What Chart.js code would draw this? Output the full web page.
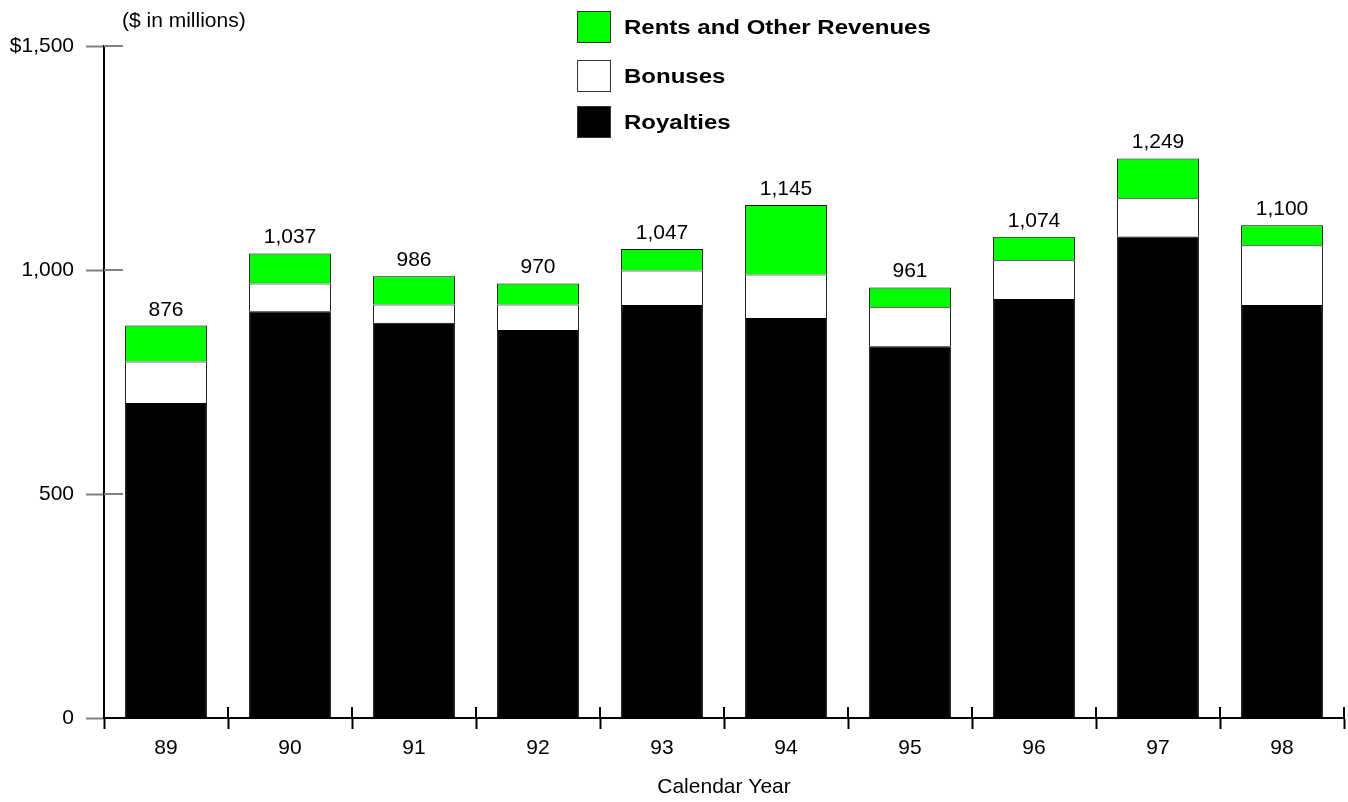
<!DOCTYPE html>
<html>
<head>
<meta charset="utf-8">
<script src="https://cdn.jsdelivr.net/npm/chart.js@4"></script>
<style>
  html, body { margin: 0; padding: 0; background: #fff; }
  #wrap { width: 1348px; height: 802px; }
</style>
</head>
<body>
<div id="wrap"><canvas id="revenue"></canvas></div>
<script>
// Revenue by calendar year, $ in millions
const years = ['89', '90', '91', '92', '93', '94', '95', '96', '97', '98'];
const royalties = [703, 908, 882, 866, 922, 893, 830, 935, 1075, 922];
const bonuses = [93, 62, 41, 57, 77, 97, 87, 87, 85, 133];
const rents = [80, 67, 63, 47, 48, 155, 44, 52, 89, 45];
const yTicks = [0, 500, 1000, 1500];

const FONT = "'Liberation Sans', Arial, sans-serif";
Chart.defaults.font.family = FONT;
Chart.defaults.font.size = 21;
Chart.defaults.color = '#000';

const fmt = v => v.toLocaleString('en-US');

// totals above each stack, legend block, unit note and the ticks that cross the axes
const decorations = {
    id: 'decorations',
    afterDatasetsDraw(chart) {
        const { ctx, scales: { x, y } } = chart;
        const area = chart.chartArea;
        ctx.save();

        // inner halves of the axis ticks
        ctx.lineWidth = 2;
        ctx.strokeStyle = '#808080';
        yTicks.slice(1).forEach(v => {
            const py = y.getPixelForValue(v);
            ctx.beginPath();
            ctx.moveTo(area.left, py);
            ctx.lineTo(area.left + 19, py);
            ctx.stroke();
        });
        ctx.strokeStyle = '#000';
        for (let i = 0; i <= years.length; i++) {
            const px = Math.round(x.getPixelForValue(i - 0.5));
            ctx.beginPath();
            ctx.moveTo(px, area.bottom - 11);
            ctx.lineTo(px, area.bottom);
            ctx.stroke();
        }

        // stack totals
        ctx.fillStyle = '#000';
        ctx.font = `21px ${FONT}`;
        ctx.textAlign = 'center';
        ctx.textBaseline = 'alphabetic';
        years.forEach((yr, i) => {
            const total = royalties[i] + bonuses[i] + rents[i];
            ctx.fillText(fmt(total), x.getPixelForValue(i), y.getPixelForValue(total) - 10);
        });

        // unit note
        ctx.textAlign = 'left';
        ctx.textBaseline = 'middle';
        ctx.fillText('($ in millions)', 122, 21);

        // legend, top series first
        const items = chart.data.datasets.slice().reverse();
        items.forEach((ds, k) => {
            const top = [11, 60, 106][k];
            ctx.fillStyle = ds.backgroundColor;
            ctx.fillRect(577, top, 34, 32);
            ctx.lineWidth = 1;
            ctx.strokeStyle = '#333';
            ctx.strokeRect(577.5, top + 0.5, 33, 31);
            // legend type is set wide
            ctx.save();
            ctx.translate(624, top + 17);
            ctx.scale(1.2, 1);
            ctx.font = `bold 20px ${FONT}`;
            ctx.fillStyle = '#000';
            ctx.fillText(ds.label, 0, 0);
            ctx.restore();
        });
        ctx.restore();
    }
};

const seg = (label, data, color) => ({
    label,
    data,
    backgroundColor: color,
    borderColor: '#000',
    borderWidth: 1,
    borderSkipped: 'start',
    barPercentage: 0.66,
    categoryPercentage: 1
});

new Chart(document.getElementById('revenue'), {
    type: 'bar',
    data: {
        labels: years,
        datasets: [
            seg('Royalties', royalties, '#000000'),
            seg('Bonuses', bonuses, '#ffffff'),
            seg('Rents and Other Revenues', rents, '#00ff00')
        ]
    },
    options: {
        responsive: true,
        maintainAspectRatio: false,
        animation: false,
        layout: { padding: { top: 46, right: 4, left: 0, bottom: 0 } },
        plugins: { legend: { display: false }, tooltip: { enabled: false } },
        scales: {
            x: {
                stacked: true,
                afterFit: s => { s.height = 84; },
                grid: { drawOnChartArea: false, drawTicks: true, tickLength: 11, tickColor: '#000', tickWidth: 2, offset: true },
                border: { color: '#000', width: 2 },
                ticks: { padding: 7 },
                title: { display: true, text: 'Calendar Year', padding: { top: 0, bottom: 2 } }
            },
            y: {
                stacked: true,
                min: 0,
                max: 1500,
                afterFit: s => { s.width = 104; },
                afterBuildTicks: s => { s.ticks = yTicks.map(v => ({ value: v })); },
                grid: { drawOnChartArea: false, drawTicks: true, tickLength: 18, tickColor: '#808080', tickWidth: 2 },
                border: { color: '#000', width: 2 },
                ticks: {
                    padding: 12,
                    callback: v => (v === 1500 ? '$' : '') + fmt(v)
                }
            }
        }
    },
    plugins: [decorations]
});
</script>
</body>
</html>
